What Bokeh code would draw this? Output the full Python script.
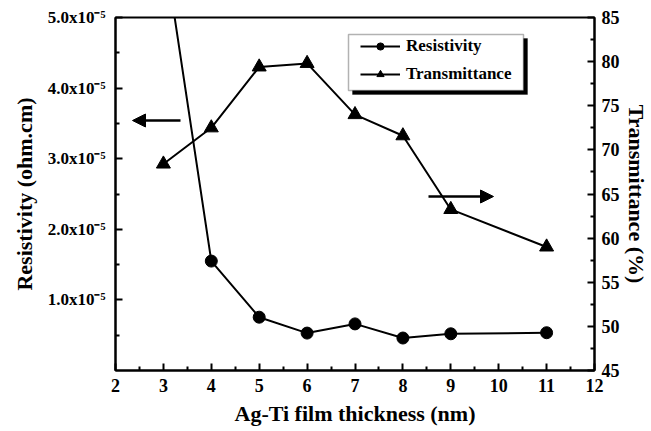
from bokeh.plotting import figure
from bokeh.models import (Range1d, LinearAxis, FixedTicker, CustomJSTickFormatter,
                          Legend, LegendItem, Arrow, NormalHead, BoxAnnotation)
from bokeh.embed import file_html
from bokeh.resources import INLINE

# Ag-Ti film thickness (nm) and measured properties
thickness = [3, 4, 5, 6, 7, 8, 9, 11]
resistivity = [6.06e-5, 1.55e-5, 0.755e-5, 0.53e-5, 0.66e-5, 0.46e-5, 0.52e-5, 0.535e-5]
transmittance = [68.4, 72.5, 79.4, 79.8, 74.0, 71.6, 63.25, 59.0]

x_ticks = [2, 3, 4, 5, 6, 7, 8, 9, 10, 11, 12]
res_ticks = [1e-5, 2e-5, 3e-5, 4e-5, 5e-5]
trans_ticks = [45, 50, 55, 60, 65, 70, 75, 80, 85]

FONT = "Liberation Serif"
X0, X1 = 2, 12
R0, R1 = 0, 5e-5
T0, T1 = 45, 85

# frame geometry in pixels (used to place the legend box and its shadow)
FL, FT, FW, FH = 115, 17, 479, 353


def px_x(px):
    return X0 + (px - FL) / FW * (X1 - X0)


def px_y(py):
    return R0 + (FT + FH - py) / FH * (R1 - R0)


p = figure(width=651, height=431, x_range=Range1d(X0, X1), y_range=Range1d(R0, R1),
           output_backend="svg", toolbar_location=None,
           min_border_left=FL, min_border_right=651 - FL - FW,
           min_border_top=FT, min_border_bottom=431 - FT - FH)
p.extra_y_ranges = {"trans": Range1d(T0, T1)}
p.grid.visible = False
p.background_fill_color = "white"
p.border_fill_color = "white"
p.outline_line_color = "black"
p.outline_line_width = 2

right = LinearAxis(y_range_name="trans")
p.add_layout(right, "right")


def style_axis(ax, size="18px"):
    ax.axis_line_width = 2
    ax.axis_line_color = "black"
    ax.major_tick_line_width = 2
    ax.minor_tick_line_width = 2
    ax.major_tick_in = 7
    ax.major_tick_out = 0
    ax.minor_tick_in = 4
    ax.minor_tick_out = 0
    ax.major_label_text_font = FONT
    ax.major_label_text_font_style = "bold"
    ax.major_label_text_font_size = size
    ax.major_label_text_color = "black"
    ax.axis_label_text_font = FONT
    ax.axis_label_text_font_style = "bold"
    ax.axis_label_text_font_size = "22px"
    ax.axis_label_text_color = "black"


xa = p.xaxis[0]
style_axis(xa)
xa.ticker = FixedTicker(ticks=x_ticks,
                        minor_ticks=[t + 0.5 for t in x_ticks[:-1]])
xa.axis_label = "Ag-Ti film thickness (nm)"
xa.major_label_standoff = 8
xa.axis_label_standoff = 6

ya = p.yaxis[0]
style_axis(ya, "17px")
ya.ticker = FixedTicker(ticks=res_ticks,
                        minor_ticks=[t - 0.5e-5 for t in res_ticks])
ya.formatter = CustomJSTickFormatter(code="return (tick / 1e-5).toFixed(1) + 'x10\u207b\u2075';")
ya.axis_label = "Resistivity (ohm.cm)"
ya.major_label_standoff = 10
ya.axis_label_standoff = 8

style_axis(right)
right.ticker = FixedTicker(ticks=trans_ticks,
                           minor_ticks=[t + 2.5 for t in trans_ticks[:-1]])
right.axis_label = "Transmittance (%)"
right.major_label_standoff = 7
right.axis_label_standoff = 1

# resistivity series
r_line = p.line(thickness, resistivity, line_color="black", line_width=2)
r_pts = p.scatter(thickness, resistivity, marker="circle", size=12,
                  fill_color="black", line_color="black")

# transmittance series on the right axis
t_line = p.line(thickness, transmittance, line_color="black", line_width=2,
                y_range_name="trans")
t_pts = p.scatter(thickness, transmittance, marker="triangle", size=14,
                  fill_color="black", line_color="black", y_range_name="trans")

# arrows pointing to the axis each series belongs to
head = dict(size=13, fill_color="black", fill_alpha=1, line_color="black", line_width=1)
p.add_layout(Arrow(end=NormalHead(**head), x_start=px_x(180), x_end=px_x(132),
                   y_start=px_y(120), y_end=px_y(120),
                   line_width=2.5, line_color="black"))
p.add_layout(Arrow(end=NormalHead(**head), x_start=px_x(428), x_end=px_x(493),
                   y_start=px_y(196), y_end=px_y(196),
                   line_width=2.5, line_color="black"))

# legend frame with drop shadow
p.add_layout(BoxAnnotation(left=px_x(352), right=px_x(527), top=px_y(38), bottom=px_y(94),
                           fill_color="black", fill_alpha=1, line_color="black"))
p.add_layout(BoxAnnotation(left=px_x(348), right=px_x(523), top=px_y(34), bottom=px_y(90),
                           fill_color="white", fill_alpha=1, line_color="black",
                           line_width=1.5))

legend = Legend(items=[LegendItem(label="Resistivity", renderers=[r_line, r_pts]),
                       LegendItem(label="Transmittance", renderers=[t_line, t_pts])],
                location=(354 - FL, FT + FH - 90),
                border_line_alpha=0, background_fill_alpha=0,
                padding=6, spacing=8, margin=0,
                glyph_width=40, glyph_height=18, label_height=18,
                label_standoff=6,
                label_text_font=FONT, label_text_font_style="bold",
                label_text_font_size="17px", label_text_color="black")
p.add_layout(legend)

open("out.html", "w").write(file_html(p, INLINE))
